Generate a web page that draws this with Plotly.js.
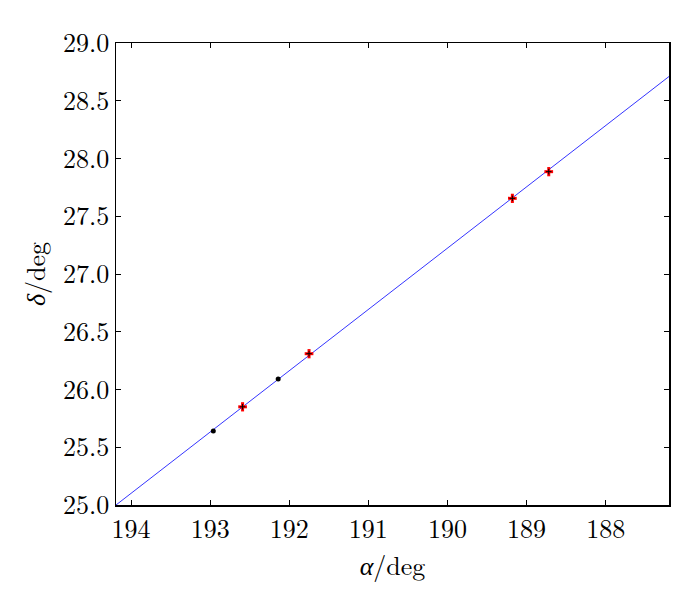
<!DOCTYPE html>
<html>
<head>
<meta charset="utf-8">
<script src="https://cdn.plot.ly/plotly-3.0.1.min.js"></script>
<style>html,body{margin:0;padding:0;background:#fff;}#chart{width:700px;height:600px;}</style>
</head>
<body>
<div id="chart"></div>
<script>
// Fit line endpoints
const lineX = [194.19, 187.20];
const lineY = [25.00, 28.71];
// Measured points with error bars (red)
const errX = [192.59, 191.75, 189.18, 188.72];
const errY = [25.85, 26.31, 27.655, 27.886];
const errXs = [0.055, 0.055, 0.055, 0.055];
const errYs = [0.04, 0.04, 0.04, 0.04];
// Plain points (black)
const dotX = [192.96, 192.14];
const dotY = [25.64, 26.09];

const xTicks = [194, 193, 192, 191, 190, 189, 188];
const yTicks = [25.0, 25.5, 26.0, 26.5, 27.0, 27.5, 28.0, 28.5, 29.0];

const traces = [
  {x: lineX, y: lineY, mode: 'lines', line: {color: '#0000ff', width: 0.8}, hoverinfo: 'skip'},
  {x: errX, y: errY, mode: 'markers', marker: {color: '#000', size: 4, symbol: 'cross-thin', line: {color: '#000', width: 1}},
   error_x: {type: 'data', array: errXs, color: '#ff0000', thickness: 3, width: 0},
   error_y: {type: 'data', array: errYs, color: '#ff0000', thickness: 3, width: 0}},
  {x: dotX, y: dotY, mode: 'markers', marker: {color: '#000', size: 5}}
];

const fam = 'Latin Modern Roman';
const tickFont = {family: fam, size: 26, color: '#000'};
const titleFont = {family: fam, size: 26, color: '#000'};
const layout = {
  width: 700, height: 600,
  margin: {l: 116, r: 31, t: 43, b: 95},
  paper_bgcolor: '#fff', plot_bgcolor: '#fff',
  showlegend: false,
  font: tickFont,
  xaxis: {
    range: [194.19, 187.20], tickvals: xTicks, ticktext: xTicks.map(String),
    ticks: 'inside', ticklen: 5, tickwidth: 1, tickcolor: '#000',
    showline: true, linecolor: '#000', linewidth: 1.5, mirror: 'ticks',
    showgrid: false, zeroline: false,
    tickfont: tickFont,
    title: {text: '<i>α</i>/deg', font: titleFont, standoff: 0}
  },
  yaxis: {
    range: [25.0, 29.0], tickvals: yTicks, ticktext: yTicks.map(v => v.toFixed(1)),
    ticks: 'inside', ticklen: 5, tickwidth: 1, tickcolor: '#000',
    showline: true, linecolor: '#000', linewidth: 1.5, mirror: 'ticks',
    showgrid: false, zeroline: false,
    tickfont: tickFont,
    title: {text: '<i>δ</i>/deg', font: titleFont, standoff: 10}
  }
};
Plotly.newPlot('chart', traces, layout, {displayModeBar: false, staticPlot: true});
</script>
</body>
</html>
